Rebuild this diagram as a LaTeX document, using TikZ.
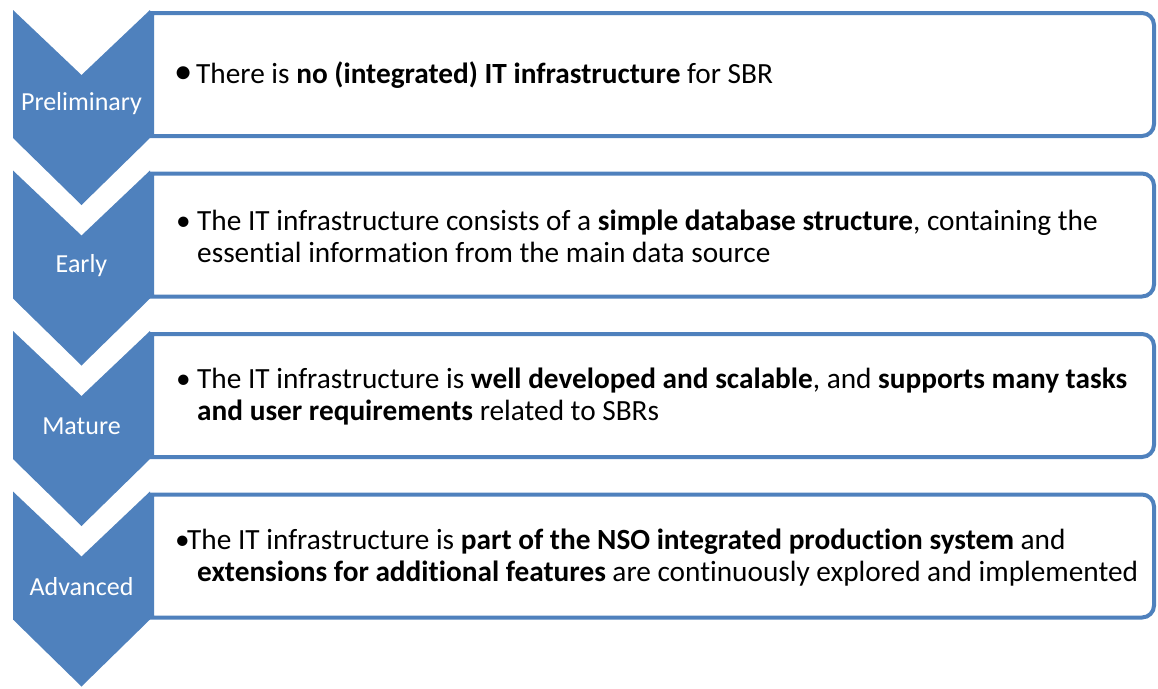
\documentclass[tikz,border=0pt]{standalone}
\usepackage{fontspec}
\setmainfont{Carlito}[Ligatures=NoCommon]
\definecolor{chev}{HTML}{4F81BD}
\tikzset{
  chevshape/.style={fill=chev, draw=none},
  boxshape/.style={draw=chev, line width=4pt, fill=white},
  lbl/.style={text=white, font=\fontsize{26}{30}\selectfont, inner sep=0pt},
  body/.style={text=black, font=\fontsize{29.3}{32}\selectfont, align=left, inner sep=0pt, anchor=west}
}
\newcommand{\chevbox}[2]{% #1 = top y (positive downwards), #2 = name
  \draw[boxshape] (152,-#1-3) -- (1142,-#1-3) arc[start angle=90,end angle=0,radius=12pt]
     -- (1154,-#1-114) arc[start angle=0,end angle=-90,radius=12pt] -- (152,-#1-126) -- cycle;
  \fill[chevshape] (13,-#1) -- (81.5,-#1-65) -- (150,-#1) -- (150,-#1-128) -- (81.5,-#1-195) -- (13,-#1-128) -- cycle;
}
\begin{document}
\begin{tikzpicture}[x=1pt,y=1pt]
\useasboundingbox (0,0) rectangle (1158,-688);
\chevbox{10}{a}
\chevbox{170.5}{b}
\chevbox{331}{c}
\chevbox{491.5}{d}
\node[lbl] (la) at (81.5,-104) {Preliminary};
\node[lbl] (lb) at (81.5,-265.5) {Early};
\node[lbl] (lc) at (81.5,-426) {Mature};
\node[lbl] (ld) at (81.5,-586.5) {Advanced};
\node[body] (ta) at (174,-75) {\makebox[22pt][l]{\raisebox{-0.5pt}{\scalebox{1.25}{•}}}There is \textbf{no (integrated) IT infrastructure} for SBR};
\node[body] (tb) at (176,-236) {\makebox[21pt][l]{•}The IT infrastructure consists of a \textbf{simple database structure}, containing the\\\hspace*{21pt}essential information from the main data source};
\node[body] (tc) at (176,-397) {\makebox[21pt][l]{•}The IT infrastructure is \textbf{well developed and scalable}, and \textbf{supports many tasks}\\\hspace*{21pt}\textbf{and user requirements} related to SBRs};
\node[body] (td) at (175,-558) {\makebox[12pt][l]{•}The IT infrastructure is \textbf{part of the NSO integrated production system} and\\\hspace*{22pt}\textbf{extensions for additional features} are continuously explored and implemented};
\end{tikzpicture}
\end{document}
